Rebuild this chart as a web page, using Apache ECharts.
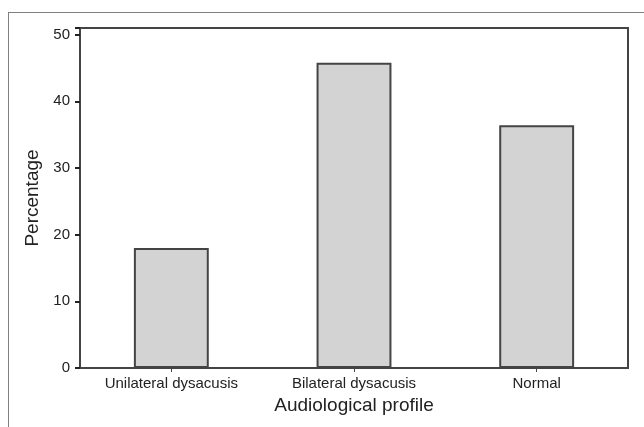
<!DOCTYPE html>
<html><head><meta charset="utf-8">
<script src="https://cdn.jsdelivr.net/npm/echarts@6/dist/echarts.min.js"></script>
<style>
html,body{margin:0;padding:0;background:#fff;}
#frame{position:absolute;left:8px;top:12px;width:636px;height:415px;border-left:1.5px solid #808080;border-top:1.5px solid #808080;}
#c{position:absolute;left:0;top:0;width:644px;height:427px;}
</style></head>
<body>
<div id="frame"></div>
<div id="c"></div>
<script>
const categories = ['Unilateral dysacusis', 'Bilateral dysacusis', 'Normal'];
const percentages = [18.0, 45.8, 36.4];
const yTicks = [0, 10, 20, 30, 40, 50];

const chart = echarts.init(document.getElementById('c'));
chart.setOption({
  animation: false,
  grid: {left: 80, right: 16, top: 28, bottom: 59, show: true, borderColor: '#444', borderWidth: 2, backgroundColor: 'transparent'},
  xAxis: {
    type: 'category', data: categories,
    name: 'Audiological profile', nameLocation: 'middle', nameGap: 26,
    nameTextStyle: {fontFamily: 'Liberation Sans', fontSize: 19, color: '#222'},
    axisLine: {lineStyle: {color: '#444', width: 2}},
    axisTick: {show: true, alignWithLabel: true, length: 4, lineStyle: {color: '#444'}},
    axisLabel: {fontFamily: 'Liberation Sans', fontSize: 15, color: '#222', margin: 8}
  },
  yAxis: {
    type: 'value', min: 0, max: 51, interval: 10,
    name: 'Percentage', nameLocation: 'middle', nameGap: 35, nameRotate: 90,
    nameTextStyle: {fontFamily: 'Liberation Sans', fontSize: 19, color: '#222'},
    axisLine: {show: true, lineStyle: {color: '#444', width: 2}},
    axisTick: {show: true, length: 5, lineStyle: {color: '#222', width: 2}},
    splitLine: {show: false},
    axisLabel: {fontFamily: 'Liberation Sans', fontSize: 15, color: '#222', margin: 10,
      formatter: v => yTicks.includes(v) ? String(v) : ''}
  },
  series: [{
    type: 'bar', data: percentages, barWidth: '41%',
    itemStyle: {color: '#d3d3d3', borderColor: '#444', borderWidth: 2}
  }]
});
</script>
</body></html>
